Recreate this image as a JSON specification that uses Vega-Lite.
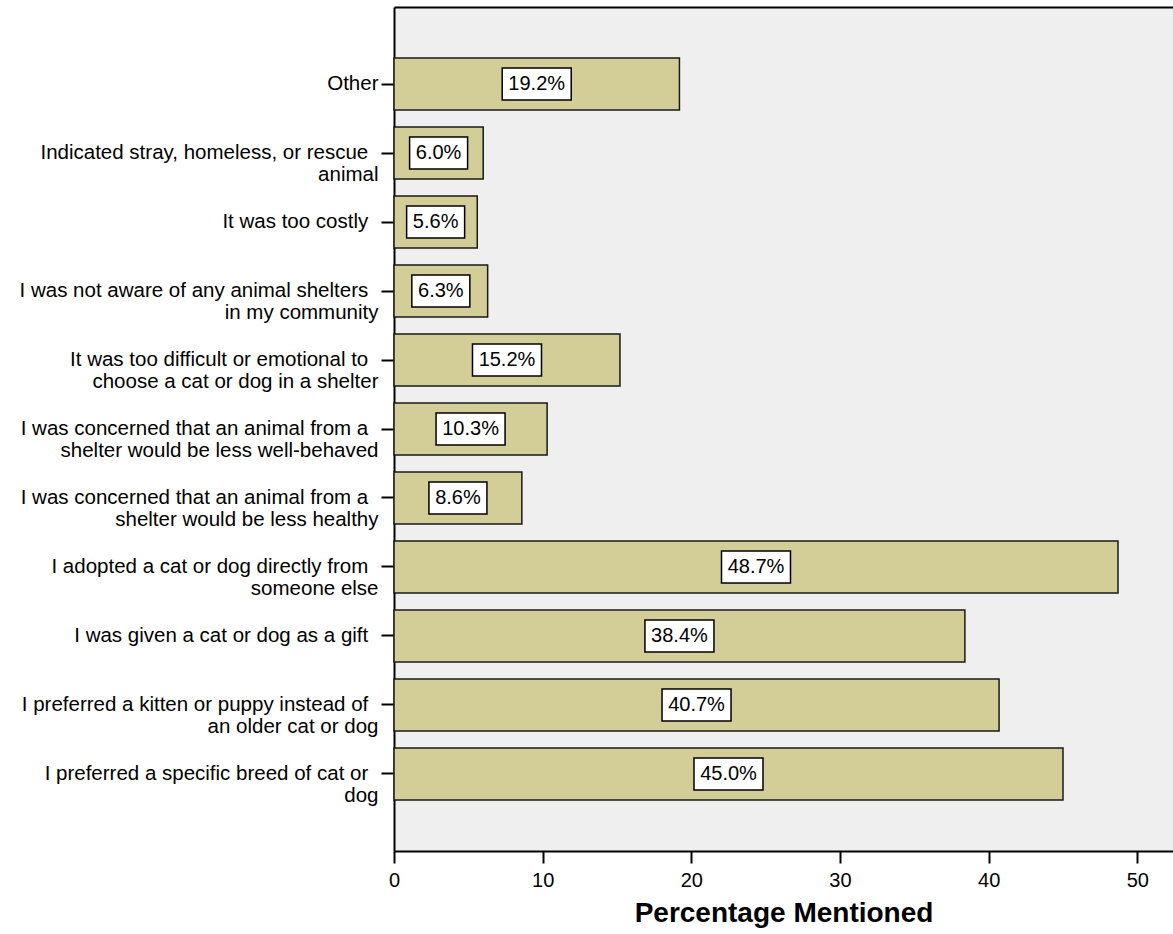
{
  "$schema": "https://vega.github.io/schema/vega-lite/v6.json",
  "width": 779,
  "height": 844,
  "autosize": "none",
  "padding": {"left": 394, "top": 7, "right": 0, "bottom": 83},
  "background": "white",
  "config": {
    "view": {"fill": "#EFEFEF", "stroke": null},
    "font": "Liberation Sans"
  },
  "data": {
    "values": [
      {"reason": "Other", "pct": 19.2},
      {"reason": "Indicated stray, homeless, or rescue\u2002\u200b|animal", "pct": 6.0},
      {"reason": "It was too costly\u2002\u200b", "pct": 5.6},
      {"reason": "I was not aware of any animal shelters\u2002\u200b|in my community", "pct": 6.3},
      {"reason": "It was too difficult or emotional to\u2002\u200b|choose a cat or dog in a shelter", "pct": 15.2},
      {"reason": "I was concerned that an animal from a\u2002\u200b|shelter would be less well-behaved", "pct": 10.3},
      {"reason": "I was concerned that an animal from a\u2002\u200b|shelter would be less healthy", "pct": 8.6},
      {"reason": "I adopted a cat or dog directly from\u2002\u200b|someone else", "pct": 48.7},
      {"reason": "I was given a cat or dog as a gift\u2002\u200b", "pct": 38.4},
      {"reason": "I preferred a kitten or puppy instead of\u2002\u200b|an older cat or dog", "pct": 40.7},
      {"reason": "I preferred a specific breed of cat or\u2002\u200b|dog", "pct": 45.0}
    ]
  },
  "transform": [
    {"calculate": "format(datum.pct, '.1f') + '%'", "as": "lbl"},
    {"calculate": "datum.pct / 2", "as": "mid"}
  ],
  "encoding": {
    "y": {
      "field": "reason",
      "type": "nominal",
      "sort": null,
      "scale": {"paddingInner": 0.246, "paddingOuter": 0.739},
      "axis": {
        "title": null,
        "labelExpr": "split(datum.label, '|')",
        "labelFontSize": 20.5,
        "labelLineHeight": 22,
        "labelLimit": 400,
        "labelPadding": 3,
        "labelColor": "black",
        "labelAlign": "right",
        "tickSize": 13,
        "tickWidth": 2,
        "tickColor": "black",
        "domainColor": "black",
        "domainWidth": 2,
        "grid": false
      }
    }
  },
  "layer": [
    {
      "mark": {"type": "bar", "fill": "#D3CE98", "stroke": "#1a1a1a", "strokeWidth": 1.5},
      "encoding": {
        "x": {
          "field": "pct",
          "type": "quantitative",
          "scale": {"domain": [0, 52.4], "nice": false, "zero": true},
          "axis": {
            "orient": "bottom",
            "values": [0, 10, 20, 30, 40, 50],
            "title": "Percentage Mentioned",
            "titleFontSize": 28,
            "titleFontWeight": "bold",
            "titleColor": "black",
            "titlePadding": 9,
            "labelFontSize": 20,
            "labelPadding": 7,
            "labelColor": "black",
            "labelFlush": false,
            "tickSize": 12,
            "tickWidth": 2,
            "tickColor": "black",
            "domainColor": "black",
            "domainWidth": 2,
            "grid": false
          }
        }
      }
    },
    {
      "transform": [{"filter": "length(datum.lbl) == 5"}],
      "mark": {"type": "bar", "fill": "white", "stroke": "black", "strokeWidth": 1.5, "size": 32, "xOffset": -34.5, "x2Offset": 34.5},
      "encoding": {
        "x": {"field": "mid", "type": "quantitative", "axis": null},
        "x2": {"field": "mid"}
      }
    },
    {
      "transform": [{"filter": "length(datum.lbl) == 4"}],
      "mark": {"type": "bar", "fill": "white", "stroke": "black", "strokeWidth": 1.5, "size": 32, "xOffset": -29, "x2Offset": 29},
      "encoding": {
        "x": {"field": "mid", "type": "quantitative", "axis": null},
        "x2": {"field": "mid"}
      }
    },
    {
      "mark": {"type": "text", "fontSize": 20, "color": "black", "align": "center", "baseline": "middle"},
      "encoding": {
        "x": {
          "field": "mid",
          "type": "quantitative",
          "axis": {"orient": "top", "labels": false, "ticks": false, "title": null, "grid": false, "domainColor": "black", "domainWidth": 2}
        },
        "text": {"field": "lbl"}
      }
    }
  ],
  "resolve": {"axis": {"x": "independent"}}
}
